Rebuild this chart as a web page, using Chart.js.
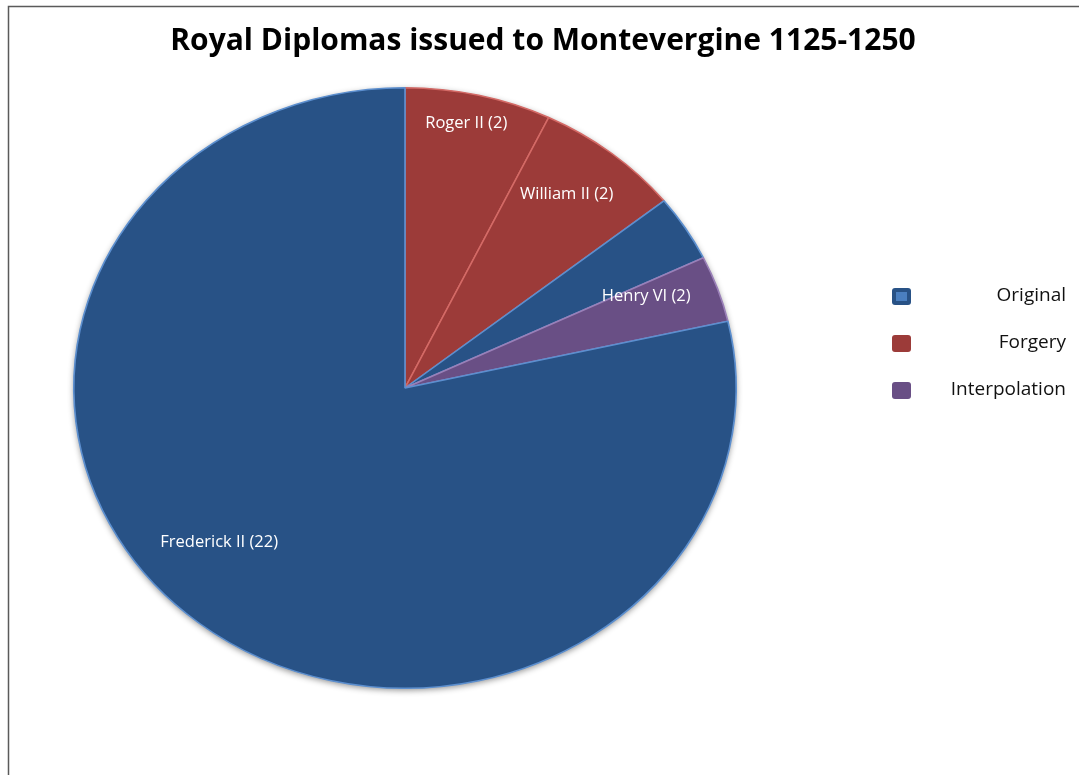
<!DOCTYPE html>
<html>
<head>
<meta charset="utf-8">
<script src="https://cdn.jsdelivr.net/npm/chart.js@4"></script>
<style>
  html, body { margin: 0; padding: 0; background: #fff; }
  #wrap { width: 1079px; height: 775px; position: relative; }
</style>
</head>
<body>
<div id="wrap"><canvas id="pieChart" width="1079" height="775"></canvas></div>
<script>
const chartTitle = 'Royal Diplomas issued to Montevergine 1125-1250';
const sliceLabels = ['Roger II (2)', 'William II (2)', '', 'Henry VI (2)', 'Frederick II (22)'];
const sliceValues = [2, 2, 1, 1, 22];
const sliceTypes = ['Forgery', 'Forgery', 'Original', 'Interpolation', 'Original'];
const legendLabels = ['Original', 'Forgery', 'Interpolation'];

const fills = { Original: '#285286', Forgery: '#9c3b39', Interpolation: '#694f85' };
const edges = { Original: '#5c8fcf', Forgery: '#d46a66', Interpolation: '#9a80b8' };

// the pie in the picture is stretched a little sideways
const stretchX = 1.103;
// where each slice label sits: fraction of radius, angle nudge (deg)
const labelSpots = [[0.9, -1], [0.81, -1.5], [0, 0], [0.79, -3.5], [0.76, 9]];

const ellipsePlugin = {
    id: 'ellipse',
    beforeDraw(chart) {
        const ctx = chart.ctx;
        ctx.save();
        ctx.strokeStyle = '#5a5a5a';
        ctx.lineWidth = 1.5;
        ctx.beginPath();
        ctx.moveTo(1079, 6.5);
        ctx.lineTo(8.5, 6.5);
        ctx.lineTo(8.5, 775);
        ctx.stroke();
        ctx.fillStyle = '#000';
        ctx.font = 'bold 30px "Open Sans"';
        ctx.textAlign = 'center';
        ctx.textBaseline = 'middle';
        ctx.fillText(chartTitle, 543, 41);
        ctx.restore();
    },
    beforeDatasetsDraw(chart) {
        const arc = chart.getDatasetMeta(0).data[0];
        const ctx = chart.ctx;
        ctx.save();
        ctx.translate(arc.x, arc.y);
        ctx.scale(stretchX, 1);
        ctx.translate(-arc.x, -arc.y);
        // soft shadow under the whole pie
        ctx.save();
        ctx.shadowColor = 'rgba(0,0,0,0.45)';
        ctx.shadowBlur = 6;
        ctx.shadowOffsetY = 2;
        ctx.fillStyle = fills.Original;
        ctx.beginPath();
        ctx.arc(arc.x, arc.y, arc.outerRadius, 0, Math.PI * 2);
        ctx.fill();
        ctx.restore();
    },
    afterDatasetsDraw(chart) {
        const ctx = chart.ctx;
        ctx.restore();
        const meta = chart.getDatasetMeta(0);
        ctx.save();
        ctx.fillStyle = '#ffffff';
        ctx.font = '16.5px "Open Sans"';
        ctx.textAlign = 'center';
        ctx.textBaseline = 'middle';
        meta.data.forEach((a, i) => {
            if (!sliceLabels[i]) return;
            const spot = labelSpots[i];
            const mid = (a.startAngle + a.endAngle) / 2 + spot[1] * Math.PI / 180;
            const r = a.outerRadius * spot[0];
            ctx.fillText(sliceLabels[i], a.x + Math.cos(mid) * r * stretchX, a.y + Math.sin(mid) * r);
        });
        ctx.restore();

        // legend
        ctx.save();
        ctx.font = '19px "Open Sans"';
        ctx.textBaseline = 'middle';
        legendLabels.forEach((name, i) => {
            const y = 296 + i * 47;
            ctx.fillStyle = fills[name];
            ctx.beginPath();
            ctx.roundRect(892, y - 8, 19, 17, 3);
            ctx.fill();
            if (name === 'Original') {
                ctx.fillStyle = '#4a7fc0';
                ctx.fillRect(896, y - 4, 11, 9);
            }
            ctx.fillStyle = '#111';
            ctx.textAlign = 'right';
            ctx.fillText(name, 1066, y);
        });
        ctx.restore();
    }
};

new Chart(document.getElementById('pieChart').getContext('2d'), {
    type: 'pie',
    data: {
        labels: sliceLabels,
        datasets: [{
            data: sliceValues,
            backgroundColor: sliceTypes.map(t => fills[t]),
            borderColor: sliceTypes.map(t => edges[t]),
            borderWidth: 1.5
        }]
    },
    options: {
        responsive: false,
        animation: false,
        layout: { padding: { left: 104, right: 373, top: 87, bottom: 86 } },
        plugins: {
            legend: { display: false },
            title: { display: false },
            tooltip: { enabled: false }
        }
    },
    plugins: [ellipsePlugin]
});
</script>
</body>
</html>
